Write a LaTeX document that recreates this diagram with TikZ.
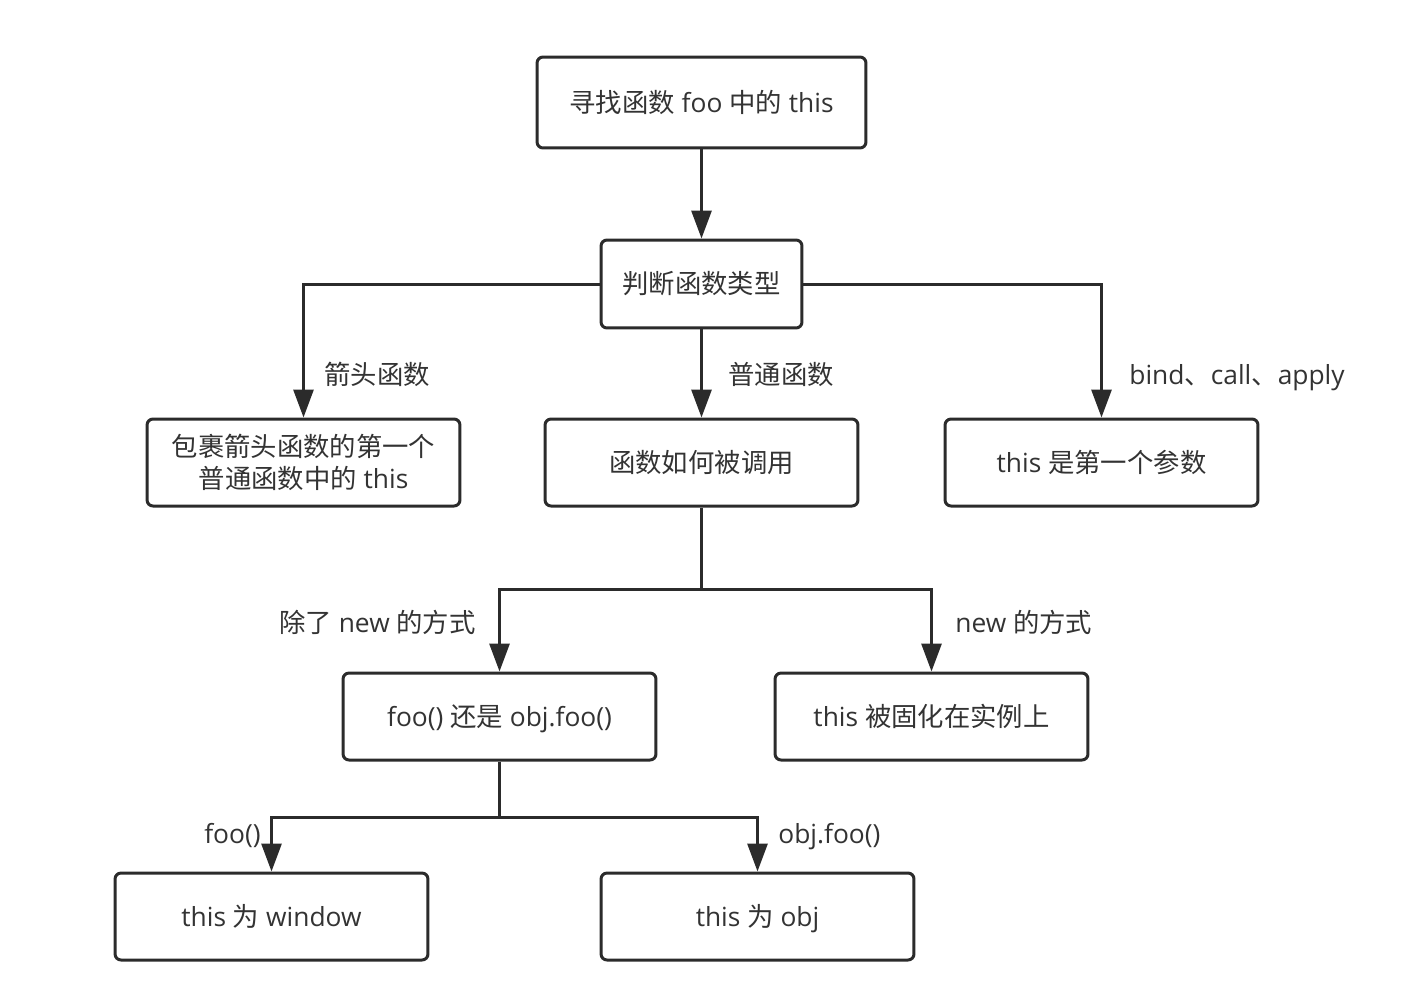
\documentclass[tikz,border=0pt]{standalone}
\usepackage{fontspec}
\setmainfont{Open Sans}
\newfontfamily\cjkfont{Noto Sans CJK SC}
\newcommand\zh[1]{{\cjkfont #1}}
\usetikzlibrary{arrows.meta}
\definecolor{ink}{HTML}{2B2B2B}
\definecolor{txt}{HTML}{333333}
\begin{document}
\begin{tikzpicture}[x=0.02cm,y=-0.02cm,
  box/.style={draw=ink, line width=0.06cm, rounded corners=0.12cm, fill=white,
    minimum width=6.26cm, minimum height=1.74cm, align=center, text=txt,
    font=\fontsize{15}{18.5}\selectfont, inner sep=2pt},
  one/.style={text height=13pt, text depth=2pt},
  conn/.style={draw=ink, line width=0.06cm, -{Triangle[length=0.56cm,width=0.4cm]}},
  plain/.style={draw=ink, line width=0.06cm},
  lbl/.style={text=txt, font=\fontsize{15}{18}\selectfont, inner sep=0pt, text height=13pt, text depth=2pt}]
\useasboundingbox (0,0) rectangle (1406,998);
\node[box, one, minimum width=6.58cm, minimum height=1.82cm] (top) at (701.5,102.5) {\zh{寻找函数} foo \zh{中的} this};
\node[box, one, minimum width=4.02cm, minimum height=1.76cm] (judge) at (701.5,284) {\zh{判断函数类型}};
\node[box] (arrow) at (303.5,462.5) {\zh{包裹箭头函数的第一个}\\\zh{普通函数中的} this};
\node[box, one] (mid) at (701.5,462.5) {\zh{函数如何被调用}};
\node[box, one] (bind) at (1101.5,462.5) {this \zh{是第一个参数}};
\node[box, one] (call) at (499.5,716.5) {foo() \zh{还是} obj.foo()};
\node[box, one] (new) at (931.5,716.5) {this \zh{被固化在实例上}};
\node[box, one] (win) at (271.5,916.5) {this \zh{为} window};
\node[box, one] (obj) at (757.5,916.5) {this \zh{为} obj};

\coordinate (j1) at (701.5,589);
\coordinate (j2) at (499.5,817);

\draw[conn] (top) -- (judge);
\draw[conn] (judge.west) -| (arrow.north);
\draw[conn] (judge) -- (mid);
\draw[conn] (judge.east) -| (bind.north);
\draw[plain] (mid.south) -- (j1);
\draw[conn] (j1) -| (call.north);
\draw[conn] (j1) -| (new.north);
\draw[plain] (call.south) -- (j2);
\draw[conn] (j2) -| (win.north);
\draw[conn] (j2) -| (obj.north);

\node[lbl, anchor=west] (l1) at (324,375) {\zh{箭头函数}};
\node[lbl, anchor=west] (l2) at (728,375) {\zh{普通函数}};
\node[lbl, anchor=west] (l3) at (1129,375) {bind\zh{、}call\zh{、}apply};
\node[lbl, anchor=east] (l4) at (476,623) {\zh{除了} new \zh{的方式}};
\node[lbl, anchor=west] (l5) at (955,623) {new \zh{的方式}};
\node[lbl, anchor=east] (l6) at (261,834) {foo()};
\node[lbl, anchor=west] (l7) at (778,834) {obj.foo()};
\end{tikzpicture}
\end{document}
